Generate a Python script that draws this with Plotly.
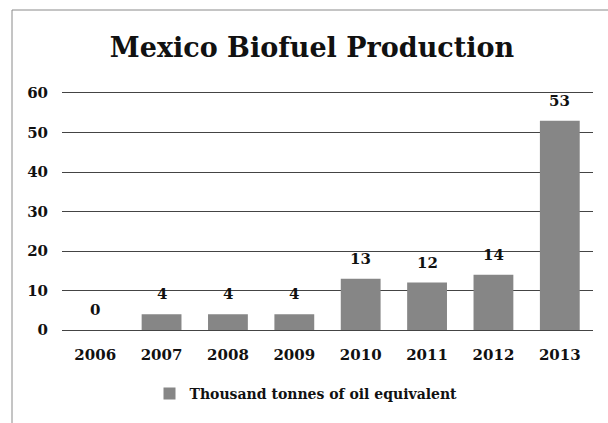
import plotly.graph_objects as go

years = ["2006", "2007", "2008", "2009", "2010", "2011", "2012", "2013"]
production = [0, 4, 4, 4, 13, 12, 14, 53]
series_name = "Thousand tonnes of oil equivalent"
y_ticks = [0, 10, 20, 30, 40, 50, 60]

W, H = 608, 423
L, R, T, B = 62, 15, 93, 93
pw, ph = W - L - R, H - T - B

def px_x(x):
    return (x - L) / pw

def px_y(y):
    return (H - B - y) / ph

serif = "DejaVu Serif"
tick_font = dict(family=serif, size=15, color="#111", weight="bold")

fig = go.Figure()
fig.add_trace(go.Bar(
    x=years, y=production, name=series_name,
    marker=dict(color="#868686", line=dict(width=0)),
    showlegend=True,
))

# value labels above each bar (category axis positions by index)
for i, v in enumerate(production):
    fig.add_annotation(x=i, y=v, text=str(v), showarrow=False,
                       yshift=20, font=tick_font)

# outer frame edges
fig.add_shape(type="line", xref="paper", yref="paper",
              x0=px_x(12), x1=px_x(W + 5), y0=px_y(10), y1=px_y(10),
              line=dict(color="#8a8a8a", width=1))
fig.add_shape(type="line", xref="paper", yref="paper",
              x0=px_x(12), x1=px_x(12), y0=px_y(10), y1=px_y(H + 5),
              line=dict(color="#8a8a8a", width=1))

fig.update_layout(
    width=W, height=H,
    margin=dict(l=L, r=R, t=T, b=B),
    paper_bgcolor="white", plot_bgcolor="white",
    bargap=0.4,
    title=dict(text="Mexico Biofuel Production", x=312 / W, xanchor="center",
               y=1 - 47.5 / H, yanchor="middle",
               font=dict(family=serif, size=27, color="#111", weight="bold")),
    font=dict(family=serif, color="#111"),
    xaxis=dict(type="category", showgrid=False, showline=True, mirror=True,
               linecolor="#444", linewidth=1,
               ticks="outside", ticklen=11, tickcolor="rgba(0,0,0,0)",
               tickfont=tick_font),
    yaxis=dict(range=[0, 60], tickvals=y_ticks, showgrid=True,
               gridcolor="#444", gridwidth=1, zeroline=False,
               ticks="outside", ticklen=10, tickcolor="rgba(0,0,0,0)",
               tickfont=tick_font),
    legend=dict(orientation="h", x=px_x(306), xanchor="center", y=px_y(394),
                yanchor="middle",
                font=dict(family=serif, size=14, color="#111", weight="bold"),
                itemwidth=30),
)

fig.write_html("out.html")
